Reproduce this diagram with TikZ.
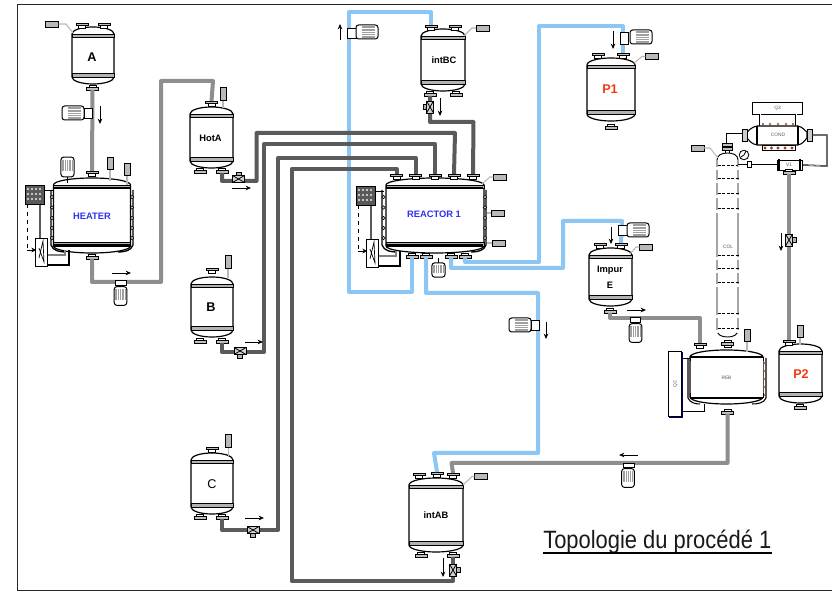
\documentclass[tikz,border=0pt]{standalone}
\usepackage{fontspec}
\setmainfont{Liberation Sans}
\newfontfamily\titlefont[FakeStretch=0.875]{Liberation Sans}
\usetikzlibrary{arrows.meta,calc}
\definecolor{pipeblue}{HTML}{8CC6F4}
\definecolor{pipedark}{HTML}{5A5A5A}
\definecolor{pipegray}{HTML}{8E8E8E}
\definecolor{lblue}{HTML}{3030F0}
\definecolor{lred}{HTML}{F03A10}
\definecolor{rust}{HTML}{A83A14}
\tikzset{
  x=0.75pt,y=-0.75pt,
  bluepipe/.style={draw=pipeblue,line width=3pt,line join=round},
  darkpipe/.style={draw=pipedark,line width=3pt,line join=round},
  graypipe/.style={draw=pipegray,line width=3pt,line join=round},
  lead/.style={draw=gray!55,line width=0.8pt},
  flow/.style={draw=black,line width=0.6pt,-{Stealth[length=4pt,width=3.4pt]}},
  sensh/.style={draw=black,line width=0.5pt,fill=gray!55,inner sep=0,minimum width=9.5pt,minimum height=4.6pt},
  sensv/.style={draw=black,line width=0.5pt,fill=gray!55,inner sep=0,minimum width=4.6pt,minimum height=9.5pt},
  tanktext/.style={font=\bfseries\fontsize{7}{8}\selectfont,text=black,inner sep=0},
  bigtext/.style={font=\fontsize{9.5}{10}\selectfont,text=black,inner sep=0},
  bluetext/.style={font=\bfseries\fontsize{7}{8}\selectfont,text=lblue,inner sep=0},
  redtext/.style={font=\bfseries\fontsize{9.5}{10}\selectfont,text=lred,inner sep=0},
  tinytext/.style={font=\fontsize{3.6}{4}\selectfont,text=gray!70!black,inner sep=0},
  tankline/.style={draw=black,line width=0.9pt},
  band/.style={draw=black,line width=0.45pt,fill=gray!60},
}
% tank: cx, top, bottom, half width
\newcommand{\tank}[4]{%
  \pgfmathsetmacro\tkl{#1-#4}\pgfmathsetmacro\tkr{#1+#4}%
  \pgfmathsetmacro\tka{#2+7}\pgfmathsetmacro\tkb{#3-7}%
  \pgfmathsetmacro\tkc{#1-0.55*#4}\pgfmathsetmacro\tkd{#1+0.55*#4}%
  \pgfmathsetmacro\tke{#2+3}\pgfmathsetmacro\tkf{#3-3}%
  \pgfmathsetmacro\tkg{#2+10}\pgfmathsetmacro\tkh{#3-11}%
  \filldraw[tankline,fill=white] (\tkl,\tka) .. controls (\tkl,\tke) and (\tkc,#2) .. (#1,#2)
    .. controls (\tkd,#2) and (\tkr,\tke) .. (\tkr,\tka) -- (\tkr,\tkb)
    .. controls (\tkr,\tkf) and (\tkd,#3) .. (#1,#3)
    .. controls (\tkc,#3) and (\tkl,\tkf) .. (\tkl,\tkb) -- cycle;
  \filldraw[band] (\tkl,\tka) rectangle (\tkr,\tkg);
  \filldraw[band] (\tkl,\tkh) rectangle (\tkr,\tkb);
}
% nozzle on top: name, x, y of flange top
\newcommand{\noztop}[3]{%
  \coordinate (#1) at (#2,#3);
  \filldraw[draw=black,line width=0.5pt,fill=white] ($(#1)+(-3.5,2)$) rectangle ($(#1)+(3.5,5)$);
  \filldraw[draw=black,line width=0.6pt,fill=gray!50] ($(#1)+(-6,0)$) rectangle ($(#1)+(6,2.4)$);
}
\newcommand{\nozbot}[3]{%
  \coordinate (#1) at (#2,#3);
  \filldraw[draw=black,line width=0.5pt,fill=white] ($(#1)+(-3.5,-5)$) rectangle ($(#1)+(3.5,-2)$);
  \filldraw[draw=black,line width=0.6pt,fill=gray!50] ($(#1)+(-6,-2.4)$) rectangle ($(#1)+(6,0)$);
}
% motor: cx, cy, rotation, scope options
\newcommand{\motor}[4]{%
  \begin{scope}[shift={(#1,#2)},rotate=#3,#4]
    \filldraw[draw=black,line width=0.75pt,fill=white,rounded corners=2pt] (-11,-7) rectangle (11,7);
    \fill[gray!75] (-5,-6) rectangle (8,6);
    \foreach \q in {-3.6,-1.2,1.2,3.6} \draw[white,line width=0.35pt] (-5,\q) -- (8,\q);
  \end{scope}
}
% valve: cx, cy, rotation
\newcommand{\valve}[3]{%
  \begin{scope}[shift={(#1,#2)},rotate=#3]
    \filldraw[draw=black,line width=0.6pt,fill=gray!35] (-6,-3.5) rectangle (6,3.5);
    \draw[black,line width=0.6pt] (-6,-3.5) -- (6,3.5) (-6,3.5) -- (6,-3.5);
    \filldraw[draw=black,line width=0.5pt,fill=gray!60] (-2.5,3.5) rectangle (2.5,7);
  \end{scope}
}
% controller and exchanger, shifted
\newcommand{\ctrl}[2]{%
  \begin{scope}[shift={(#1,#2)}]
    \draw[black,line width=0.5pt] (44,190) -- (53,190);
    \draw[darkpipe,line width=1.4pt] (40,204) -- (40,238);
    \draw[black,line width=0.5pt,dashed] (27,204) -- (27,250);
    \draw[black,line width=0.5pt,-{Stealth[length=3.5pt,width=3.5pt]}] (27,250) -- (36,250);
    \draw[black,line width=0.8pt] (47,265) -- (69,265) -- (69,250);
    \draw[gray,line width=0.8pt] (47,255) -- (65,255) -- (65,250);
    \filldraw[draw=black,line width=0.5pt,fill=white] (35.5,238) rectangle (47,266);
    \draw[black,line width=0.5pt] (39,258) -- (43,241) -- (44,262) -- (39,248);
    \filldraw[draw=black,line width=0.5pt,fill=gray!70!black] (25,185) rectangle (44,204);
    \foreach \a in {28,32,36,40} \foreach \b in {189,194,199}
      \fill[white!85!gray] (\a,\b) circle (1.1);
  \end{scope}
}
% jacket beads: x
\newcommand{\beads}[2]{%
  \foreach \q in {197,207.5,218,228,238}
    \filldraw[draw=black,line width=0.4pt,fill=gray!40] (#1,\q+#2) circle (1.7);
}
\begin{document}
\begin{tikzpicture}
\useasboundingbox (0,0) rectangle (832,591);
\fill[white] (0,0) rectangle (832,591);
% frame
\draw[black!85,line width=0.75pt] (832,5) -- (17,5) -- (17,590) -- (832,590);

% ---- tanks
\tank{93}{27}{84}{21}
\tank{211.5}{107}{168}{21.5}
\tank{212}{277}{337}{21}
\tank{212}{453}{514}{21}
\tank{443}{29}{91}{22}
\tank{611}{58}{121}{24}
\tank{610.5}{248}{306}{21.5}
\tank{436}{478}{552}{27}
\tank{800.5}{344}{403}{21.5}

% heater
\draw[black,line width=1pt] (51,190) -- (51,245) .. controls (53,251) and (60,252) .. (66,252);
\draw[black,line width=1pt] (133,190) -- (133,245) .. controls (131,251) and (124,252) .. (118,252);
\tank{92}{178}{253}{38.5}
\beads{52}{0}\beads{132}{0}
\draw[black,line width=1.4pt] (54,188) -- (130,188) (54,245) -- (130,245);
\ctrl{0}{0}
% reactor
\draw[black,line width=1pt] (382,190) -- (382,245) .. controls (384,251) and (391,252) .. (397,252);
\draw[black,line width=1pt] (486,190) -- (486,245) .. controls (484,251) and (477,252) .. (471,252);
\tank{435}{178}{253}{49}
\beads{383.5}{0}\beads{485}{0}
\draw[black,line width=1.4pt] (387,188) -- (483,188) (387,245) -- (483,245);
\ctrl{331}{1}
% reboiler
\draw[black,line width=0.6pt] (681,358) -- (690,358);
\draw[black,line width=0.6pt] (681,411) -- (704,411) -- (704,404);
\draw[black,line width=0.8pt] (688,358) -- (688,398) .. controls (690,403) and (696,404) .. (700,404);
\draw[black,line width=0.8pt] (766,358) -- (766,398) .. controls (764,403) and (758,404) .. (752,404);
\tank{726.5}{350}{404}{36.5}
\fill[white] (690.5,358) rectangle (762.5,397.5);
\draw[black,line width=1.2pt] (690,357) -- (763,357) (690,398) -- (763,398);
\foreach \q in {363,371,379,387,395} {
  \fill[rust] (688,\q) circle (1.2);
  \fill[rust] (765,\q) circle (1.2);
}
\fill[black!60!blue] (669,417) rectangle (682,418.5);
\fill[black!60!blue] (681,352) rectangle (682.5,418.5);
\node[draw=black,line width=0.6pt,fill=white,minimum width=9.5pt,minimum height=49pt,inner sep=0] (q2) at (675,384) {};
\node[tinytext,rotate=90] (q2t) at (675.5,384) {Q2};
\node[tinytext] (reb) at (726.5,378) {REB};
% column
\filldraw[draw=black,line width=0.7pt,fill=white] (717,160) .. controls (717,155) and (722,153) .. (727.5,153) .. controls (733,153) and (738,155) .. (738,160) -- (738,330) .. controls (738,335) and (733,337) .. (727.5,337) .. controls (722,337) and (717,335) .. (717,330) -- cycle;
\foreach \q in {165,178,193,208,255,268,282,313,328} {
  \fill[white] (716,\q+2) rectangle (718,\q+5);
  \fill[white] (737,\q+2) rectangle (739,\q+5);
  \foreach \p in {717.5,722,726.5,731,735.5}
    \draw[black,line width=0.7pt] (\p,\q) -- (\p+3,\q);
}
\node[tinytext] (col) at (728,246.5) {COL};
\filldraw[draw=black,line width=0.6pt,fill=white] (744,155) circle (4.8);
\draw[black,line width=0.6pt] (744,155) -- (746,151) (744,155) -- (741,157);
% condenser
\node[draw=black,line width=0.7pt,fill=white,inner sep=0,minimum width=38pt,minimum height=9pt] (q3) at (777.5,108) {};
\node[tinytext] (q3t) at (777.5,108) {Q3};
\coordinate (q3a) at (760,114);
\coordinate (q3b) at (796,114);
\draw[black,line width=1.1pt] (q3a) -- (760,126) (q3b) -- (796,126);
\draw[white,line width=0.3pt] (q3a) -- (760,126) (q3b) -- (796,126);
\filldraw[draw=black,line width=0.6pt,fill=white] (762,145) rectangle (795,150.5);
\foreach \q in {763,770,778,786,793} {
  \fill[rust] (\q,124) circle (1.2);
}
\foreach \q in {765,771.5,778,785,792} {
  \fill[rust] (\q,148) circle (1.6);
}
\filldraw[draw=black,line width=0.8pt,fill=white] (757,126) .. controls (751,127) and (749,131) .. (747,132) -- (747,138) .. controls (749,140) and (751,144) .. (757,145) -- (798,145) .. controls (803,144) and (805,140) .. (807,138) -- (807,132) .. controls (805,131) and (803,127) .. (798,126) -- cycle;
\draw[black,line width=1.3pt] (757,126) -- (757,145) (798,126) -- (798,145);
\node[tinytext] (cond) at (778,135) {COND};
\filldraw[draw=black,line width=0.6pt,fill=gray!40] (742,129) rectangle (747,141);
\filldraw[draw=black,line width=0.6pt,fill=gray!40] (807,129) rectangle (812,141);
\coordinate (condL) at (742,134);
\coordinate (condR) at (812,135);
\coordinate (v1R) at (802,165);
\coordinate (v1L) at (777,165);
\coordinate (colS) at (738,165);
\coordinate (colT) at (727,143);
\draw[black,line width=1.1pt] (condL) -- (727,134) -- (colT);
\draw[white,line width=0.3pt] (condL) -- (727,134) -- (colT);
\draw[black,line width=1.1pt] (condR) -- (827,135) -- (827,166) -- (v1R);
\draw[white,line width=0.3pt] (condR) -- (827,135) -- (827,166) -- (v1R);
\draw[black,line width=1.1pt] (v1L) -- (colS);
\draw[white,line width=0.3pt] (v1L) -- (colS);
\filldraw[draw=black,line width=0.5pt,fill=white] (747,161.5) rectangle (751.5,167);
\filldraw[draw=black,line width=0.6pt,fill=white] (777,160) rectangle (802,170);
\draw[black,line width=1pt] (779,159) -- (779,171) (800,159) -- (800,171);
\node[tinytext] (v1) at (789,165) {V1};
\filldraw[draw=black,line width=0.6pt,fill=gray!50] (722,143) rectangle (732,146);
\filldraw[draw=black,line width=0.6pt,fill=gray!50] (722,147) rectangle (732,150);
\draw[black,line width=0.6pt] (725,150) -- (725,153) (729,150) -- (729,153);

% ---- nozzles
\noztop{aT1}{82}{23}\noztop{aT2}{104}{23}\nozbot{aB}{92.5}{90}
\noztop{hT}{92}{171}\nozbot{hB}{92}{259}
\noztop{hotT}{211.5}{101}\nozbot{hotB1}{200}{173}\nozbot{hotB2}{222}{173}
\noztop{bT}{212}{268}\nozbot{bB1}{200}{343}\nozbot{bB2}{222}{343}
\noztop{cT}{212}{447}\nozbot{cB1}{200}{519}\nozbot{cB2}{222}{519}
\noztop{ibT1}{431}{25}\noztop{ibT2}{455}{25}\nozbot{ibB1}{430}{96}\nozbot{ibB2}{456}{96}
\noztop{p1T1}{598}{53}\noztop{p1T2}{623}{53}\nozbot{p1B}{611}{129}
\noztop{rT1}{396.5}{174}\noztop{rT2}{415.5}{174}\noztop{rT3}{435}{174}\noztop{rT4}{454}{174}\noztop{rT5}{473}{174}
\nozbot{rB1}{412}{258}\nozbot{rB2}{426}{258}\nozbot{rB3}{451}{258}\nozbot{rB4}{465}{258}
\noztop{eT1}{600}{243}\noztop{eT2}{621}{243}\nozbot{eB}{610}{313}
\noztop{abT1}{419}{473}\noztop{abT2}{437}{472}\noztop{abT3}{453}{473}\nozbot{abB1}{421}{557}\nozbot{abB2}{453}{557}
\noztop{p2T}{789}{340}\nozbot{p2B}{800}{409}
\noztop{rebT1}{700}{343}\noztop{rebT2}{727.5}{342}\nozbot{rebB}{727.5}{414}
\nozbot{colB}{727.5}{345}
\nozbot{v1B}{789}{174}

% ---- pipes
\draw[bluepipe] (rB1) -- (412,292) -- (349,292) -- (349,12) -- (431,12) -- (ibT1);
\draw[bluepipe] (rB2) -- (426,293) -- (538,293) -- (538,453) -- (434,453) -- (abT2);
\draw[bluepipe] (rB3) -- (451,268) -- (563,268) -- (563,221) -- (622,221) -- (eT2);
\draw[bluepipe] (rB4) -- (465,262) -- (539,262) -- (539,26) -- (623,26) -- (p1T2);

\draw[graypipe] (aB) -- (hT);
\draw[graypipe] (hB) -- (92,282) -- (161,282) -- (161,81) -- (213,81) -- (hotT);
\draw[graypipe] (eB) -- (610,318) -- (700,318) -- (rebT1);
\draw[graypipe] (rebB) -- (727.5,463) -- (451.5,463) -- (abT3);
\draw[graypipe] (v1B) -- (p2T);

\draw[darkpipe] (hotB2) -- (222,181) -- (256.5,181) -- (256.5,133) -- (455,133) -- (rT4);
\draw[darkpipe] (bB2) -- (222,352) -- (264,352) -- (264,144) -- (435,144) -- (rT3);
\draw[darkpipe] (cB2) -- (222,530) -- (278,530) -- (278,158) -- (415.5,158) -- (rT2);
\draw[darkpipe] (abB2) -- (453,581) -- (291.5,581) -- (291.5,169) -- (396.5,169) -- (rT1);
\draw[darkpipe] (ibB1) -- (430,122) -- (473.5,122) -- (rT5);

% labels
\node[bigtext] (la) at (92,57) {\bfseries A};
\node[tanktext] (lhot) at (210.5,138) {HotA};
\node[bigtext] (lb) at (211,307) {\bfseries B};
\node[bigtext] (lc) at (212,484) {C};
\node[bluetext] (lh) at (92,216) {HEATER};
\node[bluetext] (lr) at (434,214) {REACTOR 1};
\node[tanktext] (lib) at (444,60) {intBC};
\node[tanktext] (lab) at (436,515) {intAB};
\node[redtext] (lp1) at (610,89) {P1};
\node[redtext] (lp2) at (801,374) {P2};
\node[tanktext] (limp) at (610,270) {Impur};
\node[tanktext] (le) at (610,285) {E};

% ---- sensors
\node[sensh] (sa) at (52,24) {}; \draw[lead] (sa.east) -- (66,24) -- (73,33);
\node[sensv] (shot) at (223,94) {}; \draw[lead] (shot.south) -- (223,108);
\node[sensv] (sb) at (228,262) {}; \draw[lead] (sb.south) -- (228,278);
\node[sensv] (sc) at (228.5,441) {}; \draw[lead] (sc.south) -- (228.5,456);
\node[sensv] (sh1) at (110,163.5) {}; \draw[lead] (sh1.south) -- (110,181);
\node[sensv] (sh2) at (127,169.5) {}; \draw[lead] (sh2.south) -- (127,185);
\node[sensh] (sib) at (482.5,28) {}; \draw[lead] (sib.west) -- (472,28) -- (464,36);
\node[sensh] (sp1) at (652,56.5) {}; \draw[lead] (sp1.west) -- (642,56.5) -- (634,63);
\node[sensh] (sr1) at (500,177) {}; \draw[lead] (sr1.west) -- (490,177) -- (482,184);
\node[sensh] (sr2) at (497.5,213) {}; \draw[lead] (sr2.west) -- (487,213);
\node[sensh] (sr3) at (498.5,243) {}; \draw[lead] (sr3.west) -- (487,243);
\node[sensh] (se) at (646,247) {}; \draw[lead] (se.west) -- (636,247) -- (630,254);
\node[sensh] (sab) at (481,476.5) {}; \draw[lead] (sab.west) -- (472,476.5) -- (463,485);
\node[sensh] (scol) at (697.5,148) {}; \draw[lead] (scol.east) -- (710,148) -- (718,158);
\node[sensv] (sreb) at (747,335.5) {}; \draw[lead] (sreb.south) -- (747,352);
\node[sensv] (sp2) at (800,331.5) {}; \draw[lead] (sp2.south) -- (800,345);

% ---- pumps
\draw[black,line width=0.6pt,fill=white] (84,108) rectangle (92,118);
\motor{73}{113}{0}{}
\draw[black,line width=0.6pt,fill=white] (347,28) rectangle (356,38);
\motor{367}{32}{0}{}
\draw[black,line width=0.6pt,fill=white] (620,32) rectangle (628,44);
\motor{641}{37}{0}{}
\draw[black,line width=0.6pt,fill=white] (618,225) rectangle (627,235);
\motor{638}{230}{0}{}
\draw[black,line width=0.6pt,fill=white] (531,320) rectangle (539,330);
\motor{520}{325}{0}{}
\filldraw[draw=black,line width=0.5pt,fill=white] (115,280) rectangle (126,285);
\draw[black,line width=0.5pt,fill=white] (118,285) rectangle (123,288);
\motor{120.5}{296}{90}{xscale=0.85,yscale=0.9}
\filldraw[draw=black,line width=0.5pt,fill=white] (630,317) rectangle (640,322);
\draw[black,line width=0.5pt,fill=white] (632,322) rectangle (638,325);
\motor{635.5}{333}{90}{xscale=0.85,yscale=0.9}
\filldraw[draw=black,line width=0.5pt,fill=white] (623,463) rectangle (634,467);
\draw[black,line width=0.5pt,fill=white] (626,467) rectangle (631,470);
\motor{628}{478}{90}{xscale=0.85,yscale=0.9}
\motor{67.5}{167}{90}{xscale=0.9,yscale=0.93}
\draw[black,line width=0.5pt] (67.5,177) -- (67.5,183);
\draw[black,line width=0.5pt] (438.5,258) -- (438.5,263);
\motor{438.5}{270}{90}{xscale=0.65,yscale=0.93}

% ---- valves
\valve{238.5}{179}{180}
\valve{240}{351}{0}
\valve{253}{530}{0}
\valve{430}{107}{-90}
\valve{453}{570}{90}
\valve{789}{240}{90}

% ---- flow arrows
\draw[flow] (100,106) -- (100,124);
\draw[flow] (112,273) -- (131,273);
\draw[flow] (232,188) -- (251,188);
\draw[flow] (245,342) -- (263,342);
\draw[flow] (245,518) -- (264,518);
\draw[flow] (340,40) -- (340,24);
\draw[flow] (440,98) -- (440,116);
\draw[flow] (613,31) -- (613,49);
\draw[flow] (611,227) -- (611,244);
\draw[flow] (546,322) -- (546,339);
\draw[flow] (627,310) -- (646,310);
\draw[flow] (638,455) -- (619,455);
\draw[flow] (781,233) -- (781,251);
\draw[flow] (443,558) -- (443,577);

% ---- title
\node[anchor=base west,inner sep=0,font=\titlefont\fontsize{18.8}{20}\selectfont,text=black!90] (title) at (543,548) {Topologie du procédé 1};
\coordinate (tua) at ($(title.base west)+(0,4.8)$);
\coordinate (tub) at ($(title.base east)+(0,4.8)$);
\draw[black,line width=1.3pt] (tua) -- (tub);
\end{tikzpicture}
\end{document}
